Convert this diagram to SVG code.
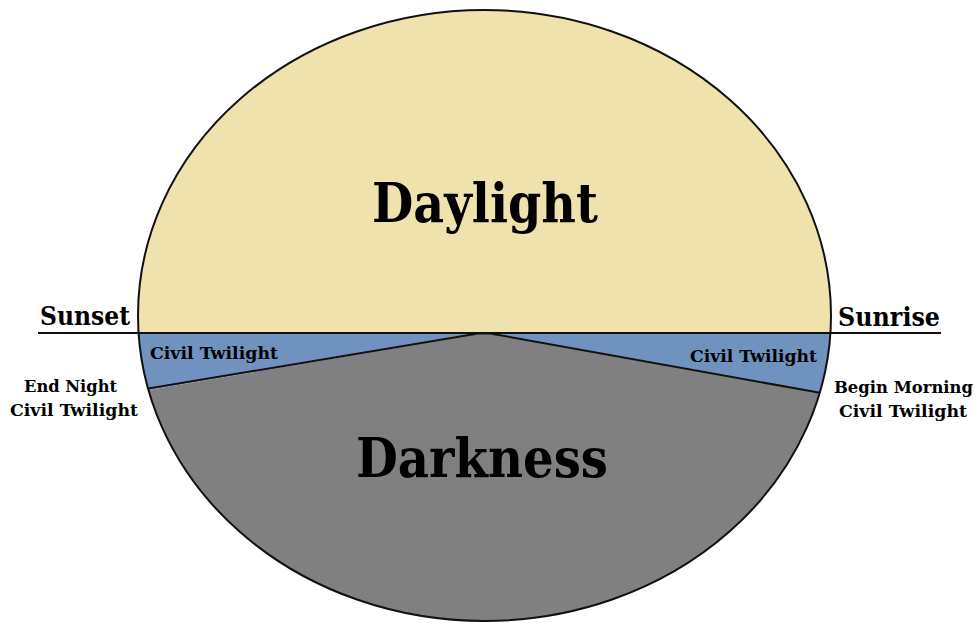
<svg xmlns="http://www.w3.org/2000/svg" width="977" height="623" viewBox="0 0 977 623">
<style>
.t{font-family:"DejaVu Serif","Liberation Serif",serif;font-weight:bold;fill:#000;}
.edge{stroke:#111;stroke-width:2;fill:none;}
</style>
<defs>
<clipPath id="ell"><ellipse cx="484.5" cy="315.5" rx="346.5" ry="305.5"/></clipPath>
</defs>
<rect width="977" height="623" fill="#fff"/>
<g clip-path="url(#ell)">
<g id="daylight"><rect x="130" y="0" width="710" height="333" fill="#EFE2AC"/></g>
<g id="twilight-left"><polygon points="130,333 484,333 130,393" fill="#7092BF"/></g>
<g id="twilight-right"><polygon points="484,333 840,333 840,397" fill="#7092BF"/></g>
<g id="darkness"><polygon points="130,393 130,623 840,623 840,397 484,333" fill="#808080"/></g>
</g>
<g id="connectors">
<line class="edge" x1="38" y1="333" x2="941" y2="333"/>
<polyline class="edge" points="130,391.6 478,333.5 490,333.5 840,396.4" clip-path="url(#ell)"/>
<ellipse class="edge" cx="484.5" cy="315.5" rx="346.5" ry="305.5"/>
</g>
<g id="labels">
<text class="t" x="485" y="222" font-size="54" text-anchor="middle" textLength="226" lengthAdjust="spacingAndGlyphs">Daylight</text>
<text class="t" x="482" y="477" font-size="54" text-anchor="middle" textLength="252" lengthAdjust="spacingAndGlyphs">Darkness</text>
<text class="t" x="40" y="325" font-size="26" textLength="90" lengthAdjust="spacingAndGlyphs">Sunset</text>
<text class="t" x="838" y="326" font-size="26" textLength="102" lengthAdjust="spacingAndGlyphs">Sunrise</text>
<text class="t" x="150" y="359" font-size="17" textLength="128" lengthAdjust="spacingAndGlyphs">Civil Twilight</text>
<text class="t" x="690" y="362" font-size="17" textLength="127" lengthAdjust="spacingAndGlyphs">Civil Twilight</text>
<text class="t" x="70.5" y="392" font-size="17" text-anchor="middle" textLength="93" lengthAdjust="spacingAndGlyphs">End Night</text>
<text class="t" x="74" y="416" font-size="17" text-anchor="middle" textLength="128" lengthAdjust="spacingAndGlyphs">Civil Twilight</text>
<text class="t" x="903.5" y="393" font-size="17" text-anchor="middle" textLength="139" lengthAdjust="spacingAndGlyphs">Begin Morning</text>
<text class="t" x="903" y="417" font-size="17" text-anchor="middle" textLength="128" lengthAdjust="spacingAndGlyphs">Civil Twilight</text>
</g>
</svg>
